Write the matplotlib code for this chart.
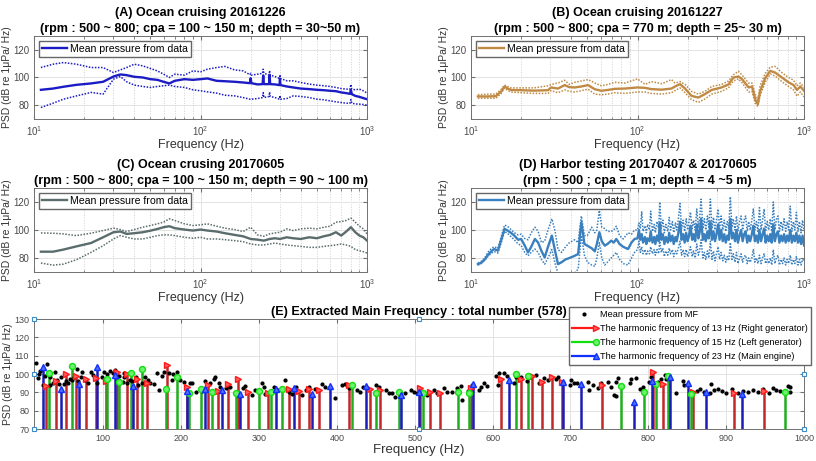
import matplotlib
matplotlib.use('Agg')
import matplotlib.pyplot as plt
from matplotlib.lines import Line2D
from matplotlib.legend_handler import HandlerBase

plt.rcParams['font.family'] = ['Liberation Sans', 'DejaVu Sans']

# ---- (A) ocean cruising 20161226 ----
fa = [11, 13, 15, 18, 22, 26, 30, 33, 36, 40, 45, 50, 55, 60, 65, 70, 80, 90, 100, 110,
      125, 140, 160, 180, 198, 200, 202, 220, 236, 238, 240, 258, 260, 262, 280, 298, 300, 302, 330, 360,
      400, 450, 500, 550, 600, 650, 700, 750, 790, 800, 810, 850, 900, 950, 1000]
mean_a = [91.1, 92, 93.3, 94.7, 95.7, 96.9, 100.7, 102.2, 101.7, 100.5, 100, 98.8, 98.3, 96.9, 95.7, 97.6, 98.8, 98.3, 98.8, 99.3,
          97.6, 97.3, 96.9, 96.4, 95.9, 99.5, 95.9, 95, 95.2, 101.5, 95.2, 95.2, 101.5, 95.2, 95, 94.5, 99, 94.5, 93.5, 92.8,
          92, 91.6, 91.1, 90.8, 90.4, 90.1, 89.2, 88.7, 88.2, 91, 88, 86.7, 86, 85.1, 84.3]
up_a = [107.2, 109.6, 110.8, 109.6, 107.2, 107.2, 103.6, 105.5, 107.2, 109.6, 108.4, 106.5, 104.8, 102.4, 100, 102.4, 101.7, 104.8, 104.1, 106,
        107.2, 108, 105.5, 104.8, 102, 103, 101.7, 102.4, 103, 106, 103.1, 101.7, 105, 101.7, 100.7, 99.3, 102, 99.3, 97.6, 97.6,
        96.4, 95.2, 94.5, 94, 93.5, 92.8, 92, 91.6, 91.5, 95, 91.5, 91.1, 91.6, 90.4, 88.7]
lo_a = [78.3, 81.4, 84.3, 86.7, 89.2, 88, 98.8, 100.7, 96.9, 94.5, 93.5, 92.8, 93.5, 94, 94.5, 93.5, 92.8, 91.1, 90.4, 89.6,
        88.7, 87.2, 86.7, 85.5, 84.3, 84.3, 84.3, 84.8, 85.5, 89, 85.5, 86.3, 89.5, 86.3, 85.5, 84.3, 87, 84.3, 84.8, 86.7,
        86.3, 85.5, 84.3, 83.9, 83.1, 82.4, 81.9, 81.4, 81.4, 84, 81.4, 80.9, 80.7, 80.5, 80]

# ---- (B) ocean cruising 20161227 ----
fb = [11, 12.6, 14.1, 15.2, 15.9, 16.6, 17.4, 20, 24, 29, 30.3, 33.3, 36.5, 39, 42, 46, 50.5, 55.4, 60.7, 66.5,
      73, 84, 100, 111, 121, 140, 160, 168, 180, 193, 211, 232, 254, 279, 320, 352, 377, 404, 423, 465,
      487, 509, 528, 545, 585, 627, 672, 737, 808, 866, 907, 951, 1000]
mean_b = [86.3, 86.3, 86.5, 90, 93.5, 92, 91, 90.8, 90.5, 90.8, 92.8, 92, 94.5, 93, 92.8, 93.5, 94.5, 91.5, 90.4, 91,
          91.8, 92, 92.8, 92.5, 91.6, 91.2, 92, 93.5, 95.2, 92, 86.7, 85.5, 88, 91, 92.8, 95, 100, 100.7, 99, 92.8,
          93.5, 84.3, 80.7, 90, 99.5, 104.8, 103.5, 100, 96.5, 94.5, 91, 93.5, 90.4]
up_b = [87.5, 88, 88, 91.5, 94.5, 93.5, 92.5, 92.5, 92.5, 94, 95, 96, 98, 95, 96.5, 97.5, 98.5, 96, 94, 95,
        96.5, 96, 99, 95, 97, 95.5, 98.5, 96, 97, 95, 90, 88, 90, 93.5, 95, 97.5, 102, 104.5, 102, 96,
        96, 88, 84, 94, 103, 107.5, 108, 103.5, 100, 98, 94, 96, 93]
lo_b = [85, 85, 85, 88.5, 92.5, 90.5, 89.5, 89, 88.5, 88.5, 90.5, 89, 91, 90, 89.5, 90.5, 91.5, 88, 87.5, 88,
        89, 88.5, 89.5, 89.5, 88.5, 88, 89, 90.5, 92.5, 89, 84, 82, 84.5, 88, 90, 92.5, 97.5, 99, 96.5, 89.5,
        90, 81.5, 79, 87, 96.5, 102.5, 101, 97, 93.5, 91, 86.5, 89.5, 86]

# ---- (C) ocean crusing 20170605 ----
fc = [11, 13, 15, 18, 22, 26, 30, 33, 36, 40, 45, 50, 55, 60, 65, 70, 80, 90, 100, 110,
      125, 140, 160, 180, 200, 220, 240, 260, 280, 300, 330, 360, 400, 450, 500, 550, 600, 650, 700, 750,
      800, 850, 900, 950, 1000]
mean_c = [84.5, 84.5, 86, 88.3, 90.7, 94.8, 98.4, 98.9, 97.2, 97.7, 98.4, 99.5, 100.7, 102, 102.7, 101.3, 100.3, 99.6, 100.3, 99.6,
          98.9, 97.7, 96.5, 95.5, 93.6, 93.1, 92.4, 93.6, 94.1, 93.6, 94.8, 94.1, 93.6, 94.8, 94.1, 95.5, 96.5, 98.4, 96, 98.9,
          102, 98.4, 96, 94.8, 92.4]
up_c = [97.9, 97.7, 97.2, 96, 97.7, 99.6, 101.3, 100.3, 98.9, 100.3, 102, 103.2, 104.4, 105.6, 108, 106.8, 104.4, 103.2, 103.7, 104.4,
        102.7, 101.3, 100.3, 98.9, 102, 96.5, 95.5, 97.2, 97.9, 98.4, 100.8, 99.6, 100.8, 101.3, 100.8, 102, 102.7, 105.6, 106, 106.8,
        108.5, 105.6, 102.7, 100.8, 97.2]
lo_c = [76.4, 74.9, 75.6, 78.8, 84, 88.8, 93.6, 96, 94.8, 93.6, 93.6, 94.8, 96, 96.5, 96.5, 96, 94.8, 94.1, 94.8, 93.6,
        93.6, 93.1, 92.4, 91.7, 90, 89.3, 89.3, 90, 90.7, 90, 89.3, 88.8, 88.3, 87.6, 87.6, 88.3, 88.8, 89.3, 90, 89.3,
        88.3, 86, 85.2, 84.5, 83.5]

# ---- (D) harbor testing ----
fd = [11, 11.5, 12.1, 12.6, 13.3, 13.8, 14.5, 15.2, 15.9, 16.6, 17.5, 18.2, 19.2, 20, 21, 22, 23, 24.2, 25.3, 26.5,
      27.7, 29, 30.6, 32, 33.3, 35, 37, 39, 42, 44, 46, 48, 50, 53, 55.4, 57, 59, 61, 63.6, 66,
      69.6, 72, 74.6, 78, 82, 87.7, 92, 96,
      100, 102, 104, 106, 108, 111, 113, 115, 118, 120, 123, 126, 128, 131, 134, 136, 139, 142, 145, 148,
      152, 155, 158, 162, 165, 169, 172, 176, 180, 184, 188, 192, 196, 200, 204, 208, 213, 217, 222, 227,
      232, 236, 241, 247, 252, 257, 263, 268, 274, 280, 286, 292, 298, 305, 311, 318, 325, 332, 339, 346,
      353, 361, 369, 376, 385, 393, 401, 410, 419, 428, 437, 446, 456, 465, 475, 486, 496, 507, 518, 529,
      540, 552, 564, 576, 588, 601, 614, 627, 640, 654, 668, 683, 697, 712, 728, 743, 759, 776, 792, 809,
      827, 845, 863, 881, 900, 920, 939, 960, 980, 1000]
mean_d = [75.6, 76.5, 79, 82, 85, 86.4, 85.2, 93, 100.8, 99.6, 97.7, 96, 93, 93.6, 89, 84, 88, 93.6, 91, 85,
          80.4, 88, 96, 85, 75.6, 77, 79, 80, 81.6, 82.8, 105.6, 90, 88.8, 87, 84.8, 90, 98.4, 92, 88.8, 90,
          92.4, 91, 93.6, 90, 88, 86.4, 91, 93.6,
          94, 100, 93, 97, 91, 95, 90, 94, 92, 99, 91, 95, 90, 96, 92, 105, 93, 97, 90, 95,
          91, 98, 92, 96, 90, 95, 92, 98, 106, 93, 97, 91, 98, 92, 96, 103, 93, 97, 92, 104,
          94, 98, 108, 93, 97, 92, 99, 94, 106, 93, 99, 92, 97, 104, 93, 100, 92, 97, 91, 96,
          93, 108, 94, 98, 92, 100, 91, 96, 100, 92, 97, 99, 91, 96, 92, 97, 103, 92, 96, 91,
          100, 92, 97, 101, 91, 96, 92, 97, 91, 104, 92, 97, 99, 91, 96, 92, 97, 91, 96, 92,
          100, 91, 96, 92, 98, 91, 96, 90, 96, 89]
up_d = [76.5, 77.5, 80, 84, 87, 88, 87, 95.5, 103.5, 102.5, 100, 98, 96.5, 97, 94, 93, 98, 102, 99, 91,
        92, 100, 108, 99, 86, 84, 88, 91, 93, 91, 110, 96, 96, 102, 98, 100, 114, 102, 101, 99,
        99, 100, 102.7, 96, 93.6, 98, 97, 100,
        100, 105, 101, 113, 99, 103, 98, 104, 100, 113.5, 99, 104, 98, 106, 101, 120, 101, 107, 98, 104,
        99, 109, 100, 106, 98, 105, 100, 108, 119, 101, 107, 99, 108, 100, 106, 112.8, 101, 107, 100, 115,
        102, 108, 122, 101, 108, 100, 110, 102, 122, 101, 109, 100, 107, 115, 101, 110, 100, 107, 99, 106,
        101, 123.7, 102, 108, 100, 110, 99, 106, 110, 100, 107, 110, 99, 106, 100, 107, 115, 100, 106, 99,
        116, 100, 107, 115, 99, 106, 100, 108, 99, 120, 100, 108, 110, 99, 106, 100, 108, 99, 106, 100,
        117, 99, 106, 100, 112.6, 99, 106, 98, 107, 100]
lo_d = [75, 76, 78.5, 81, 83.5, 84.5, 83.5, 91, 99, 97.5, 95, 93, 90, 89, 84, 81.6, 84, 86.4, 84, 79,
        75.6, 80, 86, 76, 69, 68, 69, 69, 69.5, 72, 96, 82, 77, 75, 74, 80, 91, 80, 75, 77,
        80, 82, 84, 79, 76, 75, 80, 84,
        86, 92, 84, 88, 83, 86, 82, 85, 83, 88, 83, 86, 82, 86, 83, 92, 84, 87, 81, 85,
        82, 87, 83, 86, 81, 85, 83, 87, 92, 82, 86, 81, 86, 81, 84, 88, 81, 85, 80, 90,
        82, 85, 93, 80, 84, 79, 85, 80, 92, 79, 85, 78, 83, 88, 79, 84, 78, 82, 77, 81,
        78, 91, 79, 83, 77, 84, 76, 80, 83, 77, 81, 82, 76, 80, 77, 80, 86, 77, 80, 76,
        82, 76, 80, 83, 76, 79, 76, 80, 75, 86, 76, 80, 82, 75, 79, 76, 80, 75, 79, 76,
        82, 75, 79, 76, 81, 75, 79, 75, 79, 78]

# ---- (E) extracted main frequency ----
red_f = [26, 39, 52, 65, 78, 91, 104, 117, 130, 143, 156, 182, 208, 234, 247, 260, 273, 286, 312, 338,
         351, 364, 377, 416, 442, 455, 507, 520, 533, 572, 611, 637, 650, 663, 676, 689, 741, 806, 819, 858,
         910, 949]
red_v = [93.6, 96, 100, 98.9, 97.3, 97.6, 96, 101.3, 99.8, 97.1, 95.3, 104.7, 93, 93.8, 90.8, 94.4, 97.3, 90.4, 89.5, 91.6,
         90.9, 91.6, 91.3, 94.1, 91.6, 91.3, 92.5, 90.4, 89.5, 92.5, 97.1, 97.3, 99.1, 95.8, 98.5, 95.4, 94.1, 100.9, 94.4, 90,
         89.5, 90.8]
green_f = [30, 60, 105, 120, 135, 150, 180, 195, 210, 225, 240, 270, 300, 315, 330, 420, 450, 480, 510, 555,
           570, 630, 645, 765, 795, 810, 825, 855, 975]
green_v = [100.4, 104.4, 97.1, 95.5, 100.4, 102.6, 91.7, 98.5, 89.9, 92, 90.4, 89.5, 90.9, 90.4, 91.8, 94.2, 89.8, 90.4, 89.9, 90,
           89.9, 100, 99.1, 93.6, 90, 94.5, 98.9, 89.1, 90.4]
blue_f = [23, 46, 69, 92, 115, 138, 207, 230, 253, 276, 322, 345, 368, 391, 437, 483, 506, 575, 621, 690,
          713, 782, 805, 828, 851, 874, 920]
blue_v = [103.7, 92, 94.5, 104, 99.3, 93.5, 90.6, 92, 91.2, 88.9, 91.8, 92.2, 89.1, 93.5, 93.3, 88.5, 90.2, 94.4, 96.8, 95.8,
          94.4, 84.9, 96.4, 98.5, 95.3, 90, 88.9]
dot_f = [14, 16, 18, 19, 23, 25, 28, 31, 32, 36, 38, 40, 43, 46, 49, 52, 55, 57, 60, 62,
         66, 68, 71, 73, 76, 80, 84, 87, 92, 98, 101, 105, 109, 112, 115, 120, 125, 126, 127, 131,
         134, 137, 142, 145, 150, 154, 157, 160, 165, 169, 172, 175, 178, 185, 188, 190, 195, 198, 203, 211,
         214, 219, 227, 230, 237, 242, 244, 248, 250, 257,
         263, 280, 282, 291, 295, 304, 306, 308, 319, 325, 333, 338, 342, 348, 355, 360, 364, 372, 381, 385,
         397, 407, 411, 415, 426, 430, 433, 450, 454, 463, 467, 471, 475, 488, 495, 499, 503,
         516, 525, 529, 537, 542, 548, 554, 561, 559, 568, 574, 583, 585, 589, 593, 605, 608, 607, 615,
         618, 628, 630, 636, 644, 648, 656, 659, 666, 671, 681, 684, 699, 701, 704, 709, 722, 724, 729, 735,
         739, 748, 752, 756, 759,
         761, 759, 776, 778, 784, 789, 793, 801, 804, 812, 816, 822, 823, 835, 844, 846, 862, 866, 871, 879,
         881, 885, 889, 895, 900, 907, 915, 922, 928, 934, 941, 947, 955, 960, 964, 969, 979, 982, 982]
dot_v = [105.8, 98, 100, 101.8, 94, 99, 105.5, 94, 98.2, 94.9, 101, 97, 94.6, 98.2, 94.6, 96, 94.9, 97.1, 97, 98.6,
         102.6, 96, 98.6, 101.1, 96.7, 95, 100.9, 99.5, 95, 98.6, 101.3, 100, 101.8, 100.4, 102, 99, 95.8, 100.4, 98.6, 94.9,
         96.7, 96, 98.2, 94, 95, 98.6, 97, 95.3, 94.6, 100.4, 91.3, 98.9, 100.9, 100.7, 96.7, 99.8, 101, 97, 95.8, 95.3,
         94.9, 90.4, 90.9, 96, 94.9, 97.1, 98.6, 95, 93.1, 92.2,
         93.1, 92.2, 93.5, 88.5, 91.3, 94.9, 93.1, 89.1, 93.1, 91.3, 96.7, 90.4, 89.1, 93.1, 88.6, 91.3, 93.1, 91.6, 94.6, 93.1,
         86.7, 94, 94.6, 92.2, 91.3, 90.4, 93.1, 94, 92.7, 91.3, 89.8, 89.5, 87.6, 89.5, 91.3, 90.4, 89.5,
         88.6, 91.3, 89.5, 92.2, 90.4, 90.4, 92.5, 85.8, 93.4, 90.9, 94, 91.3, 93.1, 95.3, 93.4, 98.9, 100.4, 94, 100.7,
         98.9, 95.3, 98.6, 98.6, 96.4, 98.6, 99.5, 94.9, 97.6, 96.7, 97.1, 98.2, 94, 96.7, 95.3, 94.9, 95.8, 91.3, 94, 92.2,
         94.9, 95.8, 92.7, 88.5, 95.8,
         97.6, 88, 94.9, 97.1, 97.6, 91.6, 93.1, 95.8, 98.6, 95.8, 97.1, 99.5, 97.1, 89.5, 96.4, 94, 90.9, 91.6, 90.4, 89.5,
         94.6, 91.3, 91.6, 90.9, 89.5, 91.6, 89.5, 90.9, 90.4, 91.3, 90.4, 91.6, 89.8, 92.2, 91.3, 90.9, 93.4, 93.1, 90.4]

ylab = 'PSD (dB re 1μPa/ Hz)'
axcol = '#707070'


def style_axes(ax):
    for s in ax.spines.values():
        s.set_color(axcol)
        s.set_linewidth(0.7)
    ax.tick_params(which='both', direction='in', top=True, right=True,
                   colors=axcol, labelcolor='#4a4a4a', labelsize=7)
    ax.tick_params(which='major', length=3)
    ax.tick_params(which='minor', length=1.8)
    ax.set_axisbelow(True)


def psd_panel(ax, f, mean, up, lo, color, title):
    ax.semilogx(f, up, color=color, ls=(0, (1, 1)), lw=1.1)
    ax.semilogx(f, lo, color=color, ls=(0, (1, 1)), lw=1.1)
    line, = ax.semilogx(f, mean, color=color, lw=1.7)
    ax.set_xlim(10, 1000)
    ax.set_ylim(70, 130)
    ax.set_yticks([80, 100, 120])
    ax.grid(True, which='major', color='#e3e3e3', lw=0.7)
    ax.grid(True, which='minor', axis='x', color='#d0d0d0', ls=':', lw=0.7)
    style_axes(ax)
    ax.set_title(title, fontsize=9, fontweight='bold', linespacing=1.45, pad=3)
    ax.set_xlabel('Frequency (Hz)', fontsize=9, labelpad=1, color='#333333')
    ax.set_ylabel(ylab, fontsize=7.5, labelpad=1, color='#333333')
    ax.legend([line], ['Mean pressure from data'], loc='upper left', fontsize=7.6,
              fancybox=False, edgecolor='#666666', framealpha=1, borderpad=0.25,
              handlelength=2.4, handletextpad=0.3, borderaxespad=0.5)


class StemHandler(HandlerBase):
    # line with the marker at its right end, like the MATLAB legend
    def create_artists(self, legend, orig, xd, yd, width, height, fontsize, trans):
        y = height / 2 - yd
        ln = Line2D([-xd, width - xd], [y, y], color=orig.get_color(), lw=1.6)
        mk = Line2D([width - xd], [y], ls='none', marker=orig.get_marker(),
                    ms=orig.get_markersize(), mec=orig.get_markeredgecolor(),
                    mfc=orig.get_markerfacecolor(), mew=1.0)
        ln.set_transform(trans)
        mk.set_transform(trans)
        return [ln, mk]


fig = plt.figure(figsize=(8.16, 4.61), dpi=100)

ax_a = fig.add_axes([0.0417, 0.7419, 0.4081, 0.18])
ax_b = fig.add_axes([0.5772, 0.7419, 0.4081, 0.18])
ax_c = fig.add_axes([0.0417, 0.41, 0.4081, 0.1822])
ax_d = fig.add_axes([0.5772, 0.41, 0.4081, 0.1822])
ax_e = fig.add_axes([0.0417, 0.0694, 0.9436, 0.2386])

psd_panel(ax_a, fa, mean_a, up_a, lo_a, '#1c1cc4',
          '(A) Ocean cruising 20161226\n(rpm : 500 ~ 800; cpa = 100 ~ 150 m; depth = 30~50 m)')
psd_panel(ax_b, fb, mean_b, up_b, lo_b, '#c08a44',
          '(B) Ocean cruising 20161227\n(rpm : 500 ~ 800; cpa = 770 m; depth = 25~ 30 m)')
psd_panel(ax_c, fc, mean_c, up_c, lo_c, '#5b6c6c',
          '(C) Ocean crusing 20170605\n(rpm : 500 ~ 800; cpa = 100 ~ 150 m; depth = 90 ~ 100 m)')
psd_panel(ax_d, fd, mean_d, up_d, lo_d, '#3a80bf',
          '(D) Harbor testing 20170407 & 20170605\n(rpm : 500 ; cpa = 1 m; depth = 4 ~5 m)')

# panel E: stems of the harmonic families plus all extracted points
red_c, green_c, blue_c = '#c0282a', '#1fae1f', '#1c1cb8'
ax_e.vlines(red_f, 70, red_v, color=red_c, lw=1.8)
ax_e.vlines(green_f, 70, green_v, color=green_c, lw=1.8)
ax_e.vlines(blue_f, 70, blue_v, color=blue_c, lw=1.8)
ax_e.plot(dot_f, dot_v, '.', color='black', ms=4, zorder=3)
h_red, = ax_e.plot(red_f, red_v, '>', ls='none', ms=4.3, mec='#ff1a1a', mfc='#ff6060', mew=1.0, zorder=4)
h_green, = ax_e.plot(green_f, green_v, 'o', ls='none', ms=4.3, mec='#10e010', mfc='#70f070', mew=1.0, zorder=4)
h_blue, = ax_e.plot(blue_f, blue_v, '^', ls='none', ms=4.3, mec='#1030ff', mfc='#5070ff', mew=1.0, zorder=4)
h_red.set_color('#ff1a1a')
h_green.set_color('#10e010')
h_blue.set_color('#1030ff')
h_dot = Line2D([0], [0], ls='none', marker='.', color='black', ms=4)

ax_e.set_xlim(11, 1000)
ax_e.set_ylim(70, 130)
ax_e.set_yticks(range(70, 131, 10))
ax_e.set_xticks(range(100, 1001, 100))
ax_e.grid(True, color='#e3e3e3', lw=0.7)
style_axes(ax_e)
ax_e.tick_params(labelsize=6.5)
ax_e.set_title('(E) Extracted Main Frequency : total number (578)', fontsize=9, fontweight='bold', pad=3)
ax_e.set_xlabel('Frequency (Hz)', fontsize=9.5, labelpad=1, color='#333333')
ax_e.set_ylabel(ylab, fontsize=7.5, labelpad=1, color='#333333')

# selection handles seen on the axes box
hx = [11, 11, 11, 505.5, 505.5, 1000, 1000, 1000]
hy = [130, 100, 70, 130, 70, 130, 100, 70]
ax_e.plot(hx, hy, 's', ms=3.5, mfc='white', mec='#3c8cc8', mew=0.8, clip_on=False, zorder=6)

leg = ax_e.legend([h_dot, h_red, h_green, h_blue],
                  ['Mean pressure from MF',
                   'The harmonic frequency of 13 Hz (Right generator)',
                   'The harmonic frequency of 15 Hz (Left generator)',
                   'The harmonic frequency of 23 Hz (Main engine)'],
                  handler_map={h_red: StemHandler(), h_green: StemHandler(), h_blue: StemHandler()},
                  loc='upper left', bbox_to_anchor=(0.697, 0.334), bbox_transform=fig.transFigure,
                  borderaxespad=0, fontsize=6.6, fancybox=False, edgecolor='#666666', framealpha=1,
                  borderpad=0.35, handlelength=2.6, handletextpad=0.5, labelspacing=0.55)
leg.set_zorder(10)

plt.savefig('out.png', dpi=100)
